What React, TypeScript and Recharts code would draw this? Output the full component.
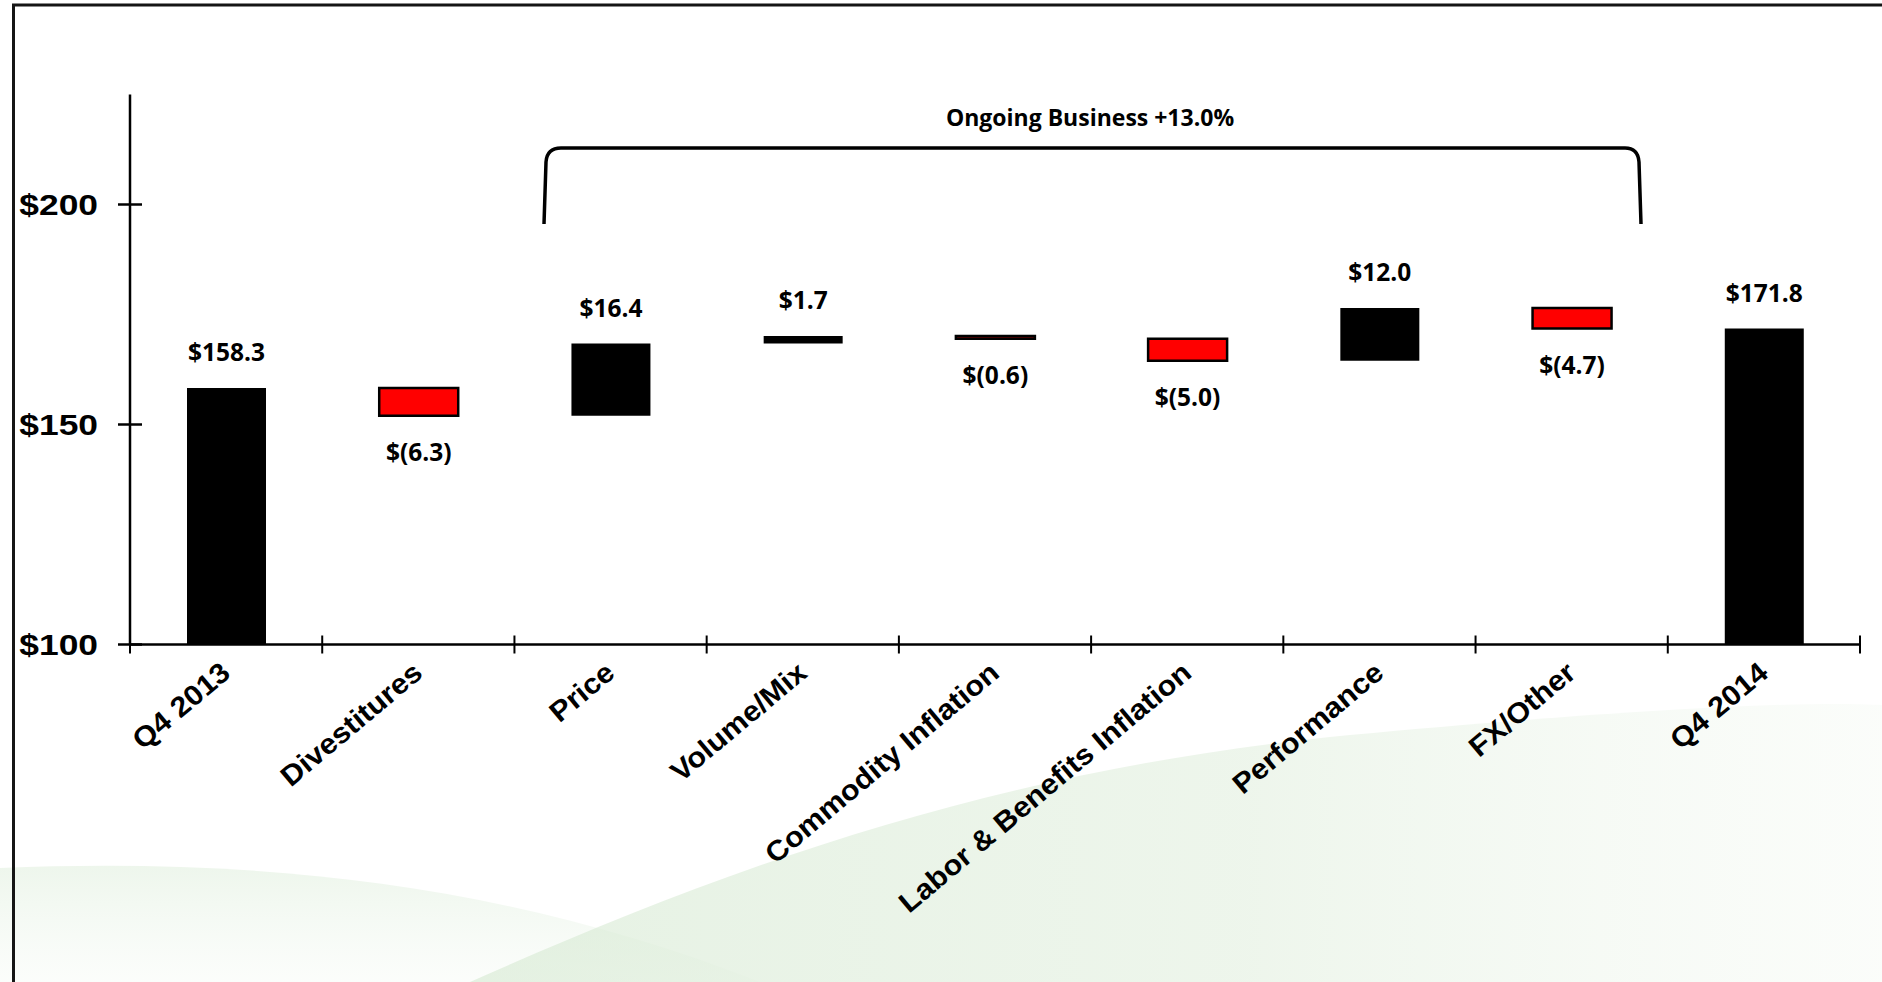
import React from 'react'
import { BarChart, Bar, XAxis, YAxis, Cell, LabelList } from 'recharts'

const categories = [
  'Q4 2013', 'Divestitures', 'Price', 'Volume/Mix', 'Commodity Inflation',
  'Labor & Benefits Inflation', 'Performance', 'FX/Other', 'Q4 2014',
]
const changes = [158.3, -6.3, 16.4, 1.7, -0.6, -5.0, 12.0, -4.7, 171.8]
const totalFlags = [true, false, false, false, false, false, false, false, true]
const valueLabels = ['$158.3', '$(6.3)', '$16.4', '$1.7', '$(0.6)', '$(5.0)', '$12.0', '$(4.7)', '$171.8']
const yTicks = [100, 150, 200]
const yDomain: [number, number] = [100, 225]
const bracketTitle = 'Ongoing Business +13.0%'

const W = 1882
const H = 982
const margin = { top: 94.5, right: 22, bottom: 37.5, left: 0 }
const yAxisWidth = 130
const xAxisHeight = 300
const band = (W - margin.left - yAxisWidth - margin.right) / categories.length

let running = 0
const rows = categories.map((name, i) => {
  if (totalFlags[i]) {
    running = changes[i]
    return { name, range: [yDomain[0], changes[i]], kind: 'total', label: valueLabels[i] }
  }
  const start = running
  running = Math.round((running + changes[i]) * 10) / 10
  return {
    name,
    range: [Math.min(start, running), Math.max(start, running)],
    kind: changes[i] >= 0 ? 'up' : 'down',
    label: valueLabels[i],
  }
})

const YTick = ({ x, y, payload }: any) => (
  <g>
    <line x1={x - 12} x2={x + 12} y1={y} y2={y} stroke="#000" strokeWidth={2.5} />
    <text
      transform={`translate(${x - 32},${y}) scale(1.18,1)`}
      textAnchor="end"
      dominantBaseline="central"
      fontFamily="'Liberation Sans', Arial, sans-serif"
      fontWeight="bold"
      fontSize={30}
      fill="#000"
    >
      ${payload.value}
    </text>
  </g>
)

const XTick = ({ x, y, payload, index }: any) => {
  const i = payload?.index ?? index ?? 0
  const tx = x + 6
  const ty = y + 31
  return (
    <g>
      {i === 0 && (
        <line x1={x - band / 2} x2={x - band / 2} y1={y - 9} y2={y + 9} stroke="#000" strokeWidth={2} />
      )}
      <line x1={x + band / 2} x2={x + band / 2} y1={y - 9} y2={y + 9} stroke="#000" strokeWidth={2} />
      <text
        transform={`translate(${tx},${ty}) rotate(-40) scale(1.07,1)`}
        textAnchor="end"
        fontFamily="'Liberation Sans', Arial, sans-serif"
        fontWeight="bold"
        fontSize={28.5}
        fill="#000"
      >
        {payload.value}
      </text>
    </g>
  )
}

const ValueLabel = ({ x, y, width, height, value }: any) => {
  const row = rows.find((r) => r.label === value)
  if (!row) return null
  const top = Math.min(y, y + height)
  const bottom = Math.max(y, y + height)
  const ty = row.kind === 'down' ? bottom + 45 : top - 27
  return (
    <text
      x={x + width / 2}
      y={ty}
      textAnchor="middle"
      fontFamily="'Open Sans', sans-serif"
      fontWeight={700}
      fontSize={24.5}
      fill="#000"
    >
      {value}
    </text>
  )
}

export default function App() {
  return (
    <div style={{ position: 'absolute', left: 0, top: 0, width: W, height: H, background: '#fff', overflow: 'hidden' }}>
      {/* pale green swoosh behind the chart */}
      <svg width={W} height={H} style={{ position: 'absolute', left: 0, top: 0 }}>
        <defs>
          <linearGradient id="swooshA" x1="0" y1="0" x2="1" y2="0">
            <stop offset="0%" stopColor="#d5e9d1" stopOpacity={0.6} />
            <stop offset="55%" stopColor="#dcecd8" stopOpacity={0.5} />
            <stop offset="100%" stopColor="#eef6ec" stopOpacity={0.25} />
          </linearGradient>
          <linearGradient id="swooshB" x1="0" y1="0" x2="0" y2="1">
            <stop offset="0%" stopColor="#dcedd9" stopOpacity={0.5} />
            <stop offset="100%" stopColor="#f3f9f2" stopOpacity={0.3} />
          </linearGradient>
        </defs>
        <path d="M 0 868 C 250 858 500 880 760 982 L 0 982 Z" fill="url(#swooshB)" />
        <path d="M 470 982 C 700 880 980 770 1350 735 C 1600 712 1800 700 1882 705 L 1882 982 Z" fill="url(#swooshA)" />
      </svg>

      <div style={{ position: 'absolute', left: 0, top: 0 }}>
        <BarChart width={W} height={H} data={rows} margin={margin} barSize={79}>
          <XAxis
            dataKey="name"
            interval={0}
            height={xAxisHeight}
            tickSize={0}
            tickMargin={0}
            axisLine={{ stroke: '#000', strokeWidth: 2.5 }}
            tickLine={false}
            tick={<XTick />}
          />
          <YAxis
            type="number"
            domain={yDomain}
            ticks={yTicks}
            allowDataOverflow
            width={yAxisWidth}
            tickSize={0}
            tickMargin={0}
            axisLine={{ stroke: '#000', strokeWidth: 2.5 }}
            tickLine={false}
            tick={<YTick />}
          />
          <Bar dataKey="range" isAnimationActive={false}>
            {rows.map((r) => (
              <Cell
                key={r.name}
                fill={r.kind === 'down' ? '#FF0000' : '#000000'}
                stroke="#000"
                strokeWidth={r.kind === 'down' ? 2.5 : 0}
              />
            ))}
            <LabelList dataKey="label" content={<ValueLabel />} />
          </Bar>
        </BarChart>
      </div>

      {/* bracket annotation and slide frame */}
      <svg width={W} height={H} style={{ position: 'absolute', left: 0, top: 0, pointerEvents: 'none' }}>
        <path
          d="M 544 224 L 546 162 Q 547 148 561 148 L 1625 148 Q 1638 148 1639 162 L 1641 224"
          fill="none"
          stroke="#000"
          strokeWidth={3.5}
        />
        <text
          x={1090}
          y={126}
          textAnchor="middle"
          fontFamily="'Open Sans', sans-serif"
          fontWeight={700}
          fontSize={23}
          fill="#000"
        >
          {bracketTitle}
        </text>
        <rect x={13.5} y={5} width={W + 20} height={H + 20} fill="none" stroke="#151515" strokeWidth={3} />
      </svg>
    </div>
  )
}
